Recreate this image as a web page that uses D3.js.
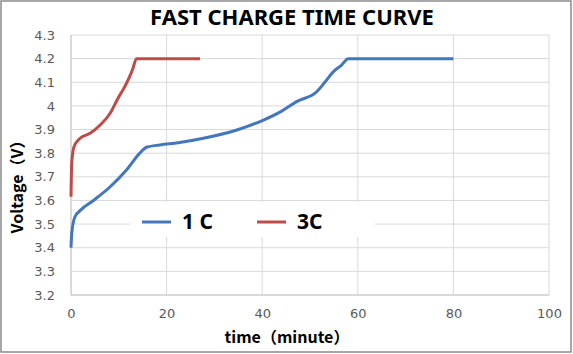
<!DOCTYPE html>
<html>
<head>
<meta charset="utf-8">
<script src="https://cdn.jsdelivr.net/npm/d3@7"></script>
<style>
  body { margin: 0; background: #fff; }
  svg { display: block; }
</style>
</head>
<body>
<div id="chart"></div>
<script>
// values
let time1C = [0, 0.15, 0.8, 1.9, 4.7, 8.2, 11.6, 14.4, 15.8, 18.6, 22.4, 27.7, 34.7, 39.9, 43.9, 47.2, 51.4, 53.1, 54.9, 56.6, 58, 80]
let volt1C = [3.40, 3.46, 3.53, 3.557, 3.60, 3.658, 3.729, 3.80, 3.825, 3.835, 3.844, 3.863, 3.898, 3.937, 3.976, 4.018, 4.06, 4.10, 4.145, 4.173, 4.20, 4.20]
let time3C = [0, 0.15, 0.63, 1.9, 4.0, 6.1, 8.2, 9.9, 11.0, 12.0, 12.9, 13.7, 27]
let volt3C = [3.616, 3.757, 3.827, 3.863, 3.884, 3.919, 3.969, 4.035, 4.072, 4.112, 4.155, 4.20, 4.20]
let xTicks = [0, 20, 40, 60, 80, 100]
let yTicks = [3.2, 3.3, 3.4, 3.5, 3.6, 3.7, 3.8, 3.9, 4, 4.1, 4.2, 4.3]
let seriesNames = ["1 C", "3C"]
let seriesColors = ["#4376bd", "#be4b48"]

let W = 573, H = 354
let margin = { top: 35, right: 24, bottom: 59, left: 71 },
    width = W - margin.left - margin.right,
    height = H - margin.top - margin.bottom

let svg = d3.select("#chart")
    .append("svg")
    .attr("width", W)
    .attr("height", H)

// outer frame
svg.append("rect")
    .attr("x", 1).attr("y", 1)
    .attr("width", W - 3).attr("height", H - 3)
    .style("fill", "#fff")
    .style("stroke", "#8a8a8a")
    .style("stroke-width", 1.5)

let x = d3.scaleLinear().domain([0, 100]).range([0, width])
let y = d3.scaleLinear().domain([3.2, 4.3]).range([height, 0])

let g = svg.append("g")
    .attr("transform", "translate(" + margin.left + "," + margin.top + ")")

// gridlines
g.append("g")
    .selectAll("line.hg")
    .data(yTicks)
    .enter().append("line")
    .attr("x1", 0).attr("x2", width)
    .attr("y1", d => y(d)).attr("y2", d => y(d))
    .style("stroke", "#d9d9d9").style("stroke-width", 1)
g.append("g")
    .selectAll("line.vg")
    .data(xTicks)
    .enter().append("line")
    .attr("y1", 0).attr("y2", height)
    .attr("x1", d => x(d)).attr("x2", d => x(d))
    .style("stroke", "#d9d9d9").style("stroke-width", 1)

// axis lines
g.append("line").attr("x1", 0).attr("x2", 0).attr("y1", 0).attr("y2", height)
    .style("stroke", "#c8c8c8")
g.append("line").attr("x1", 0).attr("x2", width).attr("y1", height).attr("y2", height)
    .style("stroke", "#c8c8c8")

// tick labels
let yAxis = g.append("g")
    .call(d3.axisLeft(y).tickValues(yTicks).tickSize(0).tickPadding(16).tickFormat(d3.format("")))
let xAxis = g.append("g")
    .attr("transform", "translate(0," + height + ")")
    .call(d3.axisBottom(x).tickValues(xTicks).tickSize(0).tickPadding(14).tickFormat(d3.format("d")))
;[xAxis, yAxis].forEach(a => {
    a.select(".domain").remove()
    a.selectAll("text")
        .style("font-family", "'DejaVu Sans', sans-serif")
        .style("font-size", "13px")
        .style("fill", "#595959")
})

// legend box
g.append("rect")
    .attr("x", 130 - margin.left).attr("y", 202 - margin.top)
    .attr("width", 245).attr("height", 35)
    .style("fill", "#fff")

let line = d3.line()
    .x(d => x(d[0]))
    .y(d => y(d[1]))
    .curve(d3.curveMonotoneX)

let series = [d3.zip(time1C, volt1C), d3.zip(time3C, volt3C)]

series.forEach((s, i) => {
    g.append("path")
        .datum(s)
        .style("fill", "none")
        .style("stroke", seriesColors[i])
        .style("stroke-width", "3px")
        .style("stroke-linejoin", "round")
        .attr("d", line)
})

// legend
let legendX = [142, 257]
seriesNames.forEach((n, i) => {
    svg.append("line")
        .attr("x1", legendX[i]).attr("x2", legendX[i] + 29)
        .attr("y1", 222).attr("y2", 222)
        .style("stroke", seriesColors[i])
        .style("stroke-width", "3px")
    svg.append("text")
        .attr("x", legendX[i] + 40)
        .attr("y", 229)
        .style("font-family", "'Noto Sans', sans-serif")
        .style("font-weight", "bold")
        .style("font-size", "21px")
        .style("fill", "#000")
        .text(n)
})

// title
svg.append("text")
    .attr("x", 292)
    .attr("y", 25)
    .attr("text-anchor", "middle")
    .style("font-family", "'Noto Sans', sans-serif")
    .style("font-weight", "bold")
    .style("font-size", "22px")
    .text("FAST CHARGE TIME CURVE")

// x axis label
svg.append("text")
    .attr("x", 287)
    .attr("y", 343)
    .attr("text-anchor", "middle")
    .style("font-family", "'Noto Sans CJK JP', sans-serif")
    .style("font-weight", "bold")
    .style("font-size", "16px")
    .text("time（minute）")

// y axis label
svg.append("text")
    .attr("transform", "translate(23,183) rotate(-90)")
    .attr("text-anchor", "middle")
    .style("font-family", "'Noto Sans CJK JP', sans-serif")
    .style("font-weight", "bold")
    .style("font-size", "16px")
    .text("Voltage（V）")
</script>
</body>
</html>
